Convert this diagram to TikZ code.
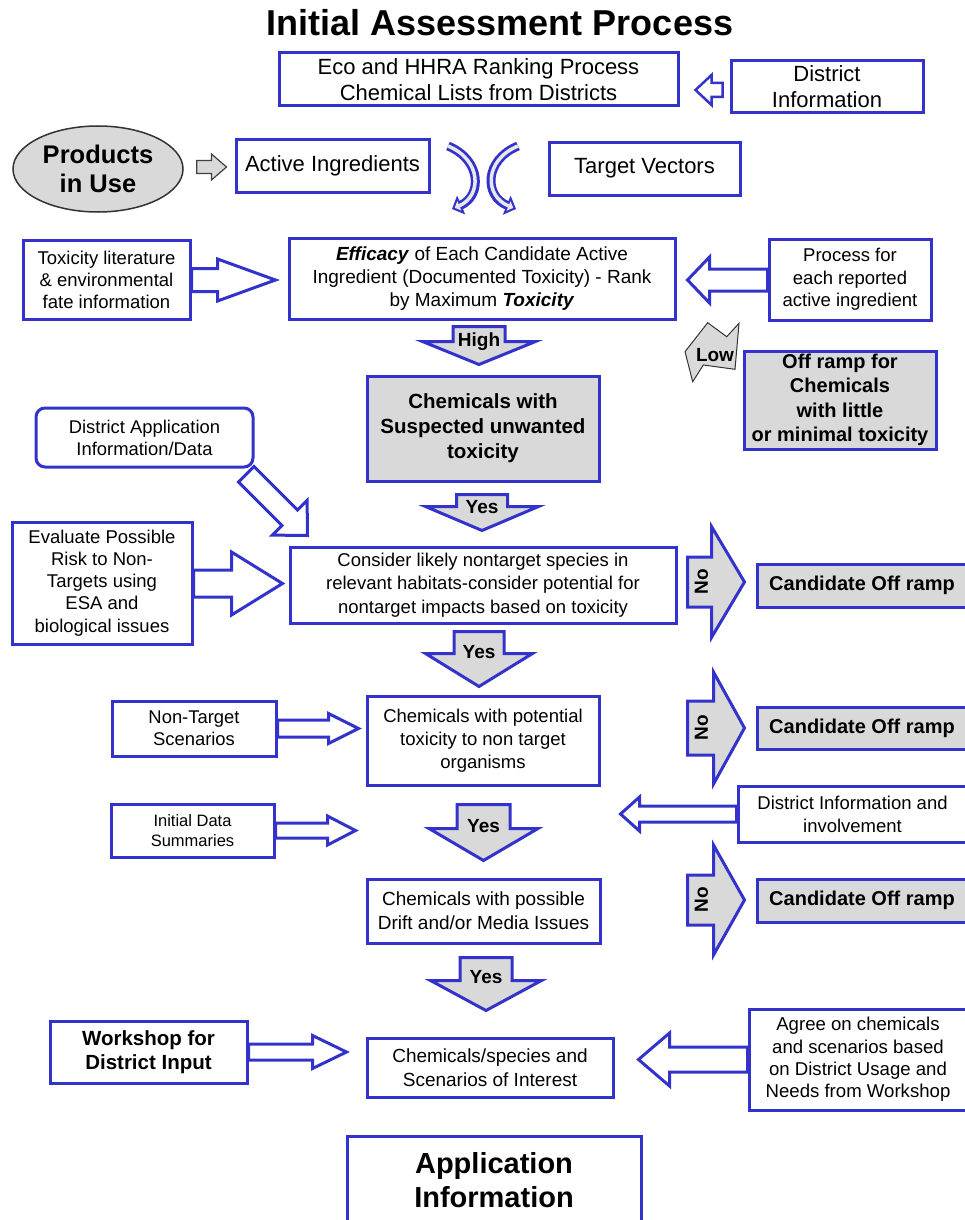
\documentclass[tikz,border=0pt]{standalone}
\usepackage{fontspec}
\setmainfont{Liberation Sans}
\usetikzlibrary{calc,arrows.meta,shapes.geometric}

\definecolor{boxblue}{RGB}{51,51,204}
\definecolor{boxgray}{RGB}{217,217,217}
\newcommand\fsz[2]{\fontsize{#1}{#2}\selectfont}

\begin{document}
\begin{tikzpicture}[x=1pt,y=-1pt,>=latex,
  box/.style={draw=boxblue,line width=3pt,fill=white,inner sep=0pt,align=center},
  graybox/.style={box,fill=boxgray},
  blockarr/.style={draw=boxblue,line width=3pt,fill=white,line join=miter},
  grayarr/.style={draw=boxblue,line width=3pt,fill=boxgray,line join=miter},
  smallarr/.style={draw=black!75,line width=1.2pt,fill=boxgray,line join=miter},
  pfeiltext/.style={font=\fsz{19}{21}\bfseries,inner sep=0pt}]

\clip (0,0) rectangle (965,1220);

% horizontal block arrow: style, tail, tip, shaft half, head half, head length
\def\hpfeil#1#2#3#4#5#6{
\draw[#1] let \p1=(#2), \p2=(#3), \n1={sign(\x2-\x1)} in
  (\x1,{\y2+#4}) -- ({\x2-\n1*#6},{\y2+#4}) -- ({\x2-\n1*#6},{\y2+#5}) -- (\x2,\y2)
  -- ({\x2-\n1*#6},{\y2-#5}) -- ({\x2-\n1*#6},{\y2-#4}) -- (\x1,{\y2-#4}) -- cycle;
}
% downward block arrow with label: style, top, tip, shaft half, head half, head length, text, name, text offset
\def\vpfeil#1#2#3#4#5#6#7#8#9{
\draw[#1] let \p1=(#2), \p2=(#3) in
  ({\x2-#4},\y1) -- ({\x2-#4},{\y2+#6}) -- ({\x2-#5},{\y2+#6}) -- (\x2,\y2)
  -- ({\x2+#5},{\y2+#6}) -- ({\x2+#4},{\y2+#6}) -- ({\x2+#4},\y1) -- cycle
  (\x2,{\y1-#9}) node[pfeiltext] (#8) {#7};
}

\node[font=\fsz{36}{40}\bfseries] (titel) at (500,23) {Initial Assessment Process};

% top row
\node[box,minimum width=399,minimum height=53,font=\fsz{22}{26}] (eco) at (478.5,79.5)
  {Eco and HHRA Ranking Process\\Chemical Lists from Districts};
\node[box,minimum width=192,minimum height=52,font=\fsz{22}{26}] (distinfo) at (827,87)
  {District\\Information};
\node[ellipse,draw=black!80,line width=1.5pt,fill=boxgray,inner sep=0pt,align=center,
  minimum width=170,minimum height=86,font=\fsz{25.5}{29}\bfseries] (prod) at (98,169)
  {Products\\in Use};
\node[box,minimum width=193,minimum height=53,font=\fsz{22}{26}] (active) at (332.5,165.5)
  {Active Ingredients};
\node[box,minimum width=191,minimum height=53,font=\fsz{22}{26}] (target) at (644.5,168.5)
  {Target Vectors};

% ranking row
\node[box,minimum width=167,minimum height=79,font=\fsz{18.5}{22}] (tox) at (106.5,279.5)
  {Toxicity literature\\\& environmental\\fate information};
\node[box,minimum width=386,minimum height=81,font=\fsz{19}{23}] (eff) at (482,278.5)
  {\textbf{\textit{Efficacy}} of Each Candidate Active\\Ingredient (Documented Toxicity) - Rank\\by Maximum \textbf{\textit{Toxicity}}};
\node[box,minimum width=162,minimum height=81,font=\fsz{18.5}{22.5}] (proc) at (850,279.5)
  {Process for\\each reported\\active ingredient};

\node[graybox,minimum width=232,minimum height=105,font=\fsz{20.5}{25}\bfseries] (susp) at (483,428.5)
  {Chemicals with\\Suspected unwanted\\toxicity};
\node[graybox,minimum width=192,minimum height=98,font=\fsz{20}{24.5}\bfseries] (offramp) at (840,400)
  {Off ramp for\\Chemicals\\with little\\or minimal toxicity};
\node[box,rounded corners=9pt,minimum width=217,minimum height=59,font=\fsz{18.4}{22}] (distapp) at (144.5,437.5)
  {District Application\\Information/Data};

% nontarget rows
\node[box,minimum width=180,minimum height=122,font=\fsz{18.5}{22.2}] (eval) at (102,583)
  {Evaluate Possible\\Risk to Non-\\Targets using\\ESA and\\biological issues};
\node[box,minimum width=386,minimum height=76,font=\fsz{18.5}{23.5}] (consider) at (483,585)
  {Consider likely nontarget species in\\relevant habitats-consider potential for\\nontarget impacts based on toxicity};
\node[graybox,minimum width=210,minimum height=43,font=\fsz{20}{24}\bfseries] (cand1) at (862,585.5)
  {Candidate Off ramp};

\node[box,minimum width=164,minimum height=55,font=\fsz{18.4}{22}] (nontgt) at (194,728.5)
  {Non-Target\\Scenarios};
\node[box,minimum width=232,minimum height=89,font=\fsz{18.5}{23}] (pot) at (483,740.5)
  {Chemicals with potential\\toxicity to non target\\organisms};
\node[graybox,minimum width=210,minimum height=42,font=\fsz{20}{24}\bfseries] (cand2) at (862,728)
  {Candidate Off ramp};

\node[box,minimum width=163,minimum height=53,font=\fsz{16.5}{20}] (initdata) at (192.5,830.5)
  {Initial Data\\Summaries};
\node[box,minimum width=229,minimum height=56,font=\fsz{18.5}{23}] (distinv) at (852.5,814)
  {District Information and\\involvement};

\node[box,minimum width=233,minimum height=64,font=\fsz{19}{24}] (drift) at (483.5,911)
  {Chemicals with possible\\Drift and/or Media Issues};
\node[graybox,minimum width=210,minimum height=43,font=\fsz{20}{24}\bfseries] (cand3) at (862,900.5)
  {Candidate Off ramp};

% workshop row
\node[box,minimum width=197,minimum height=62,font=\fsz{20.5}{24}\bfseries] (workshop) at (148.5,1052)
  {Workshop for\\District Input};
\node[box,minimum width=246,minimum height=59,font=\fsz{19}{24}] (chemsp) at (490,1067.5)
  {Chemicals/species and\\Scenarios of Interest};
\node[box,minimum width=218,minimum height=101,font=\fsz{18.6}{22.3}] (agree) at (858,1059.5)
  {Agree on chemicals\\and scenarios based\\on District Usage and\\Needs from Workshop};

\node[box,minimum width=294,minimum height=88,font=\fsz{29}{34}\bfseries] (appl) at (494,1180)
  {Application\\Information};

% small arrows at the top
\hpfeil{blockarr,line width=2.5pt}{$(distinfo.west)+(-7,3)$}{$(eco.east)+(16,10.5)$}{7}{15}{16}
\hpfeil{smallarr}{$(prod.east)+(13,-2)$}{$(active.west)+(-8,1.5)$}{6.5}{13}{15}

% swap arrows
\draw[boxblue,line width=9pt,-{Triangle[length=10pt,width=20pt]}]
  (448,146) .. controls (482,160) and (482,196) .. (452,209);
\draw[boxgray!60,line width=3.5pt,shorten >=3pt,-{Triangle[length=5pt,width=10pt]}]
  (448,146) .. controls (482,160) and (482,196) .. (452,209);
\draw[boxblue,line width=9pt,-{Triangle[length=10pt,width=20pt]}]
  (518,146) .. controls (484,160) and (484,196) .. (516,209);
\draw[boxgray!60,line width=3.5pt,shorten >=3pt,-{Triangle[length=5pt,width=10pt]}]
  (518,146) .. controls (484,160) and (484,196) .. (516,209);

% inputs to the ranking
\hpfeil{blockarr}{tox.east}{$(eff.west)+(-12,1.5)$}{11.5}{21}{58}
\hpfeil{blockarr}{proc.west}{$(eff.east)+(11,1.5)$}{11}{23}{22}

\vpfeil{grayarr}{$(eff.south)+(-3,6)$}{$(susp.north)+(-4,-10)$}{26}{56.5}{23}{High}{hoch}{15}

\draw[fill=boxgray,draw=black!80,line width=1pt,line join=miter]
  (707.7,322.7) -- (726.7,336.7) -- (739,323.3) -- (735,369.3) -- (703.3,365)
  -- (692.7,381.7) -- (685,351.7) -- cycle;
\node[pfeiltext] (tief) at (715,355) {Low};

% district application data
\coordinate (dtip) at ($(consider.north west)+(19,-10)$);
\draw[blockarr] (dtip) -- ++(-35,-0.4) -- ++(9.5,-9.5) -- ++(-43.5,-43.5) -- ++(15.6,-15.6)
  -- ++(43.5,43.5) -- ++(9.5,-9.5) -- cycle;

\vpfeil{grayarr}{$(susp.south)+(0,12)$}{$(consider.north)+(-1,-15)$}{25.5}{56.5}{24}{Yes}{ja1}{13}
\hpfeil{blockarr}{eval.east}{$(consider.west)+(-6,-1.5)$}{13.5}{31.5}{51}

\hpfeil{grayarr}{$(cand1.west)+(-68,-3.5)$}{$(cand1.west)+(-11,-3.5)$}{25}{55.5}{33}
\node[pfeiltext,rotate=90] (nein1) at ($(cand1.west)+(-54,-3.5)$) {No};

\vpfeil{grayarr}{$(consider.south)+(0,7)$}{$(pot.north)+(-4,-8)$}{25}{53.5}{33}{Yes}{ja2}{21}
\hpfeil{blockarr}{nontgt.east}{$(nontgt.east -| pot.west)+(-7,0)$}{8.5}{15}{30}

\hpfeil{grayarr}{$(cand2.west)+(-68,0)$}{$(cand2.west)+(-11,0)$}{27}{56}{31}
\node[pfeiltext,rotate=90] (nein2) at ($(cand2.west)+(-54,0)$) {No};

\vpfeil{grayarr}{$(pot.south)+(0,18)$}{$(drift.north)+(0,-17)$}{26.5}{54.5}{32}{Yes}{ja3}{22}
\hpfeil{blockarr}{initdata.east}{$(initdata.east -| pot.west)+(-10,0)$}{7.5}{14.5}{28}
\hpfeil{blockarr}{distinv.west}{$(distinv.west -| pot.east)+(20,0)$}{8}{17}{19}

\hpfeil{grayarr}{$(cand3.west)+(-68,-0.5)$}{$(cand3.west)+(-11,-0.5)$}{25}{55}{31}
\node[pfeiltext,rotate=90] (nein3) at ($(cand3.west)+(-54,-0.5)$) {No};

\vpfeil{grayarr}{$(drift.south)+(0,13)$}{$(chemsp.north)+(-4,-26)$}{26}{55.5}{30}{Yes}{ja4}{20}
\hpfeil{blockarr}{workshop.east}{$(workshop.east -| chemsp.west)+(-19,0)$}{8}{16.5}{34}
\hpfeil{blockarr}{agree.west}{$(agree.west -| chemsp.east)+(24,0)$}{12.5}{26.5}{31}

\end{tikzpicture}
\end{document}
